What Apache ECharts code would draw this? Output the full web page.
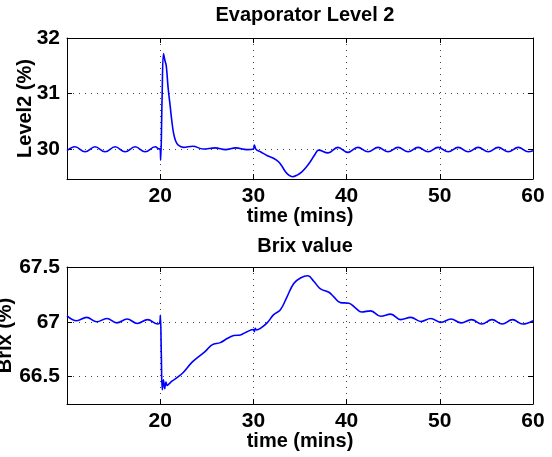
<!DOCTYPE html>
<html>
<head>
<meta charset="utf-8">
<title>Evaporator Level 2 / Brix value</title>
<script src="https://cdn.jsdelivr.net/npm/echarts@6/dist/echarts.min.js"></script>
<style>
	html, body { margin: 0; padding: 0; background: #fff; }
	#chart { width: 552px; height: 457px; }
</style>
</head>
<body>
<div id="chart"></div>
<script>
// values (time in mins)
const levelTime = [
	10.0, 10.86, 11.94, 13.01, 14.09, 15.16, 16.24, 17.31, 18.39, 19.46, 19.9, 19.98,
	20.05, 20.2, 20.35, 20.5, 20.65, 20.85, 21.08, 21.25, 21.43, 21.65, 21.94, 22.5,
	23.5, 24.6, 25.9, 27.0, 28.1, 29.3, 30.0, 30.1, 30.3, 30.75, 31.5, 32.2,
	32.7, 33.1, 33.44, 33.8, 34.16, 34.7, 35.2, 35.7, 36.1, 36.6, 37.0, 38.0,
	39.06, 40.13, 41.2, 42.3, 43.37, 44.45, 45.52, 46.6, 47.67, 48.75, 49.82, 50.9,
	51.97, 53.05, 54.12, 55.2, 56.27, 57.35, 58.42, 59.5, 60.0
];
const levelValues = [
	29.97, 30.04, 29.95, 30.04, 29.95, 30.04, 29.95, 30.04, 29.95, 30.04, 30.0, 30.01,
	29.80, 30.9, 31.72, 31.6, 31.5, 31.1, 30.76, 30.5, 30.29, 30.15, 30.07, 30.03,
	30.05, 30.0, 30.02, 29.99, 30.02, 29.99, 30.0, 30.07, 29.99, 29.95, 29.88, 29.83,
	29.77, 29.68, 29.59, 29.53, 29.50, 29.53, 29.59, 29.68, 29.77, 29.90, 29.98, 29.93,
	30.03, 29.94, 30.03, 29.95, 30.03, 29.95, 30.03, 29.95, 30.03, 29.95, 30.03, 29.95,
	30.03, 29.95, 30.03, 29.95, 30.03, 29.95, 30.03, 29.95, 29.97
];

const brixTime = [
	10.0, 11.04, 12.1, 13.2, 14.27, 15.34, 16.45, 17.55, 18.64, 19.75, 19.95, 20.02,
	20.12, 20.22, 20.35, 20.48, 20.62, 20.75, 20.9, 21.3, 21.8, 22.5, 23.4, 24.1,
	24.84, 25.56, 26.45, 27.24, 27.9, 28.6, 29.32, 30.0, 30.1, 30.2, 30.35, 30.75,
	31.47, 32.18, 32.9, 33.62, 34.33, 35.05, 35.84, 36.48, 37.2, 38.1, 38.6, 39.35,
	40.25, 40.97, 41.6, 42.58, 43.66, 44.73, 45.8, 46.88, 47.96, 49.03, 50.1, 51.2,
	52.3, 53.4, 54.5, 55.6, 56.7, 57.8, 58.9, 60.0
];
const brixValues = [
	67.055, 67.01, 67.04, 67.0, 67.03, 66.99, 67.025, 66.985, 67.02, 66.98, 66.99, 67.06,
	66.7, 66.38, 66.47, 66.39, 66.45, 66.42, 66.43, 66.46, 66.49, 66.54, 66.63, 66.68,
	66.73, 66.79, 66.81, 66.85, 66.875, 66.88, 66.91, 66.93, 66.91, 66.94, 66.925, 66.94,
	66.99, 67.065, 67.11, 67.23, 67.35, 67.40, 67.42, 67.37, 67.30, 67.27, 67.23, 67.175,
	67.17, 67.125, 67.09, 67.10, 67.05, 67.07, 67.02, 67.04, 67.003, 67.03, 66.995, 67.025,
	66.99, 67.02, 66.98, 67.02, 66.98, 67.02, 66.98, 67.01
];

const panelTitles = ['Evaporator Level 2', 'Brix value'];
const yNames = ['Level2 (%)', 'Brix (%)'];
const xName = 'time (mins)';
const timeRange = [10, 60];
const levelRange = [29.46, 32];
const brixRange = [66.25, 67.5];

const FONT = '"Liberation Sans", Arial, sans-serif';
const textStyle = { fontFamily: FONT, fontWeight: 'bold', fontSize: 20, color: '#000' };
const tickStyle = { fontFamily: FONT, fontWeight: 'bold', fontSize: 21, color: '#000' };

function pairs(xs, ys)
{
	return xs.map((x, i) => [x, ys[i]]);
}

function xAxes(gridIndex)
{
	const common = {
		type: 'value',
		gridIndex: gridIndex,
		min: timeRange[0],
		max: timeRange[1],
		interval: 10,
		axisLine: { show: true, lineStyle: { color: '#000', width: 1 } },
		axisTick: { show: true, inside: true, length: 5, lineStyle: { color: '#000' } },
	};
	return [
		Object.assign({}, common, {
			position: 'bottom',
			name: xName,
			nameLocation: 'middle',
			nameGap: 27,
			nameMoveOverlap: false,
			nameTextStyle: textStyle,
			axisLabel: Object.assign({ margin: 7, showMinLabel: false }, tickStyle),
			splitLine: { show: true, lineStyle: { color: '#444', type: [1, 5], width: 1 } },
		}),
		Object.assign({}, common, {
			position: 'top',
			axisLabel: { show: false },
			splitLine: { show: false },
		}),
	];
}

function yAxes(gridIndex, range, step, name, nameGap)
{
	const common = {
		type: 'value',
		gridIndex: gridIndex,
		min: range[0],
		max: range[1],
		minInterval: step,
		maxInterval: step,
		axisLine: { show: true, lineStyle: { color: '#000', width: 1 } },
		axisTick: { show: true, inside: true, length: 5, lineStyle: { color: '#000' } },
	};
	return [
		Object.assign({}, common, {
			position: 'left',
			name: name,
			nameLocation: 'middle',
			nameGap: nameGap,
			nameMoveOverlap: false,
			nameTextStyle: textStyle,
			axisLabel: Object.assign({ margin: 7, showMinLabel: false }, tickStyle),
			splitLine: { show: true, lineStyle: { color: '#444', type: [1, 5], width: 1 } },
		}),
		Object.assign({}, common, {
			position: 'right',
			axisLabel: { show: false },
			splitLine: { show: false },
		}),
	];
}

const chart = echarts.init(document.getElementById('chart'), null, { renderer: 'canvas' });

const option = {
	animation: false,
	backgroundColor: '#fff',
	title: [
		{ text: panelTitles[0], left: 300, top: 0, textAlign: 'center', textStyle: textStyle },
		{ text: panelTitles[1], left: 300, top: 231, textAlign: 'center', textStyle: textStyle },
	],
	grid: [
		{ left: 67, right: 19, top: 38, height: 141, outerBoundsMode: 'none' },
		{ left: 67, right: 19, top: 267, height: 137, outerBoundsMode: 'none' },
	],
	xAxis: [].concat(xAxes(0), xAxes(1)),
	yAxis: [].concat(
		yAxes(0, levelRange, 1, yNames[0], 32),
		yAxes(1, brixRange, 0.5, yNames[1], 52)
	),
	series: [
		{
			type: 'line',
			xAxisIndex: 0,
			yAxisIndex: 0,
			data: pairs(levelTime, levelValues),
			showSymbol: false,
			smooth: 0.4,
			lineStyle: { color: '#0000ff', width: 1.6 },
		},
		{
			type: 'line',
			xAxisIndex: 2,
			yAxisIndex: 2,
			data: pairs(brixTime, brixValues),
			showSymbol: false,
			smooth: 0.4,
			lineStyle: { color: '#0000ff', width: 1.6 },
		},
	],
};

chart.setOption(option);
</script>
</body>
</html>
